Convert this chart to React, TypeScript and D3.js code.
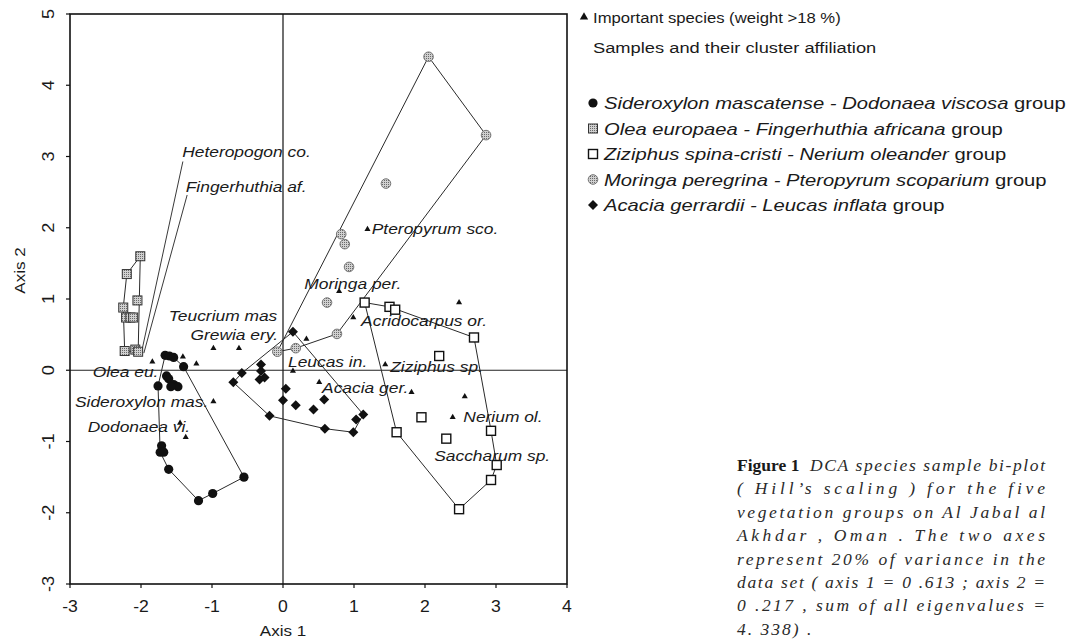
import React from 'react';
import * as d3 from 'd3';

const W = 1084;
const H = 643;

// axis ticks
const X_TICKS = [-3, -2, -1, 0, 1, 2, 3, 4];
const Y_TICKS = [-3, -2, -1, 0, 1, 2, 3, 4, 5];

// samples of each vegetation group, [axis 1, axis 2]
const sideroxylonSamples: [number, number][] = [
  [-1.66, 0.21], [-1.6, 0.2], [-1.54, 0.18], [-1.4, 0.05], [-1.64, -0.08],
  [-1.61, -0.12], [-1.54, -0.2], [-1.48, -0.23], [-1.58, -0.23], [-1.76, -0.22],
  [-1.71, -1.06], [-1.73, -1.15], [-1.68, -1.15], [-1.61, -1.39], [-1.19, -1.83],
  [-0.99, -1.73], [-0.55, -1.5],
];
const oleaSamples: [number, number][] = [
  [-2.01, 1.6], [-2.2, 1.35], [-2.05, 0.98], [-2.25, 0.88], [-2.21, 0.74],
  [-2.15, 0.74], [-2.11, 0.74], [-2.23, 0.27], [-2.08, 0.29], [-2.04, 0.26],
];
const ziziphusSamples: [number, number][] = [
  [1.15, 0.95], [1.5, 0.89], [1.58, 0.85], [2.69, 0.46], [2.2, 0.2],
  [1.95, -0.66], [1.6, -0.87], [2.3, -0.96], [2.93, -0.85], [3.01, -1.33],
  [2.93, -1.54], [2.48, -1.95],
];
const moringaSamples: [number, number][] = [
  [2.05, 4.4], [2.86, 3.3], [1.45, 2.62], [0.82, 1.91], [0.87, 1.77],
  [0.93, 1.45], [0.62, 0.95], [0.76, 0.51], [0.18, 0.31], [-0.08, 0.26],
];
const acaciaSamples: [number, number][] = [
  [0.14, 0.54], [-0.58, -0.04], [-0.7, -0.17], [-0.31, 0.08], [-0.31, -0.01],
  [-0.33, -0.13], [-0.26, -0.1], [0.04, -0.26], [0.0, -0.42], [0.18, -0.49],
  [0.43, -0.55], [0.58, -0.41], [-0.19, -0.64], [0.59, -0.82], [0.99, -0.87],
  [1.03, -0.69], [1.13, -0.62],
];

// important species (weight > 18 %)
const speciesPoints: [number, number][] = [
  [1.19, 1.98], [0.79, 1.11], [2.48, 0.95], [0.99, 0.74], [0.33, 0.44],
  [-0.98, 0.31], [-0.62, 0.31], [0.14, -0.01], [1.44, 0.08], [0.51, -0.17],
  [1.81, -0.31], [2.56, -0.37], [2.39, -0.66], [-1.84, 0.12], [-1.41, 0.19],
  [-1.22, 0.09], [-0.98, -0.44], [-1.37, -0.94], [-1.45, -0.74],
];

// species names, placed at [axis 1, axis 2]
const speciesLabels = [
  { text: 'Heteropogon co.', x: -1.42, y: 3.06, anchor: 'start' },
  { text: 'Fingerhuthia af.', x: -1.37, y: 2.57, anchor: 'start' },
  { text: 'Pteropyrum sco.', x: 1.25, y: 1.98, anchor: 'start' },
  { text: 'Moringa per.', x: 0.3, y: 1.21, anchor: 'start' },
  { text: 'Acridocarpus or.', x: 1.1, y: 0.69, anchor: 'start' },
  { text: 'Teucrium mas', x: -0.08, y: 0.76, anchor: 'end' },
  { text: 'Grewia ery.', x: -0.07, y: 0.5, anchor: 'end' },
  { text: 'Olea eu.', x: -2.68, y: -0.02, anchor: 'start' },
  { text: 'Leucas in.', x: 0.07, y: 0.11, anchor: 'start' },
  { text: 'Ziziphus sp.', x: 1.51, y: 0.04, anchor: 'start' },
  { text: 'Acacia ger.', x: 0.55, y: -0.25, anchor: 'start' },
  { text: 'Sideroxylon mas.', x: -2.93, y: -0.45, anchor: 'start' },
  { text: 'Dodonaea vi.', x: -2.75, y: -0.8, anchor: 'start' },
  { text: 'Nerium ol.', x: 2.54, y: -0.65, anchor: 'start' },
  { text: 'Saccharum sp.', x: 2.13, y: -1.21, anchor: 'start' },
];

// leader lines from the two grass labels to their position
const leaderLines: [number, number][][] = [
  [[-1.41, 2.93], [-2.0, 0.22]],
  [[-1.35, 2.46], [-1.96, 0.24]],
];

const legendGroups = [
  { kind: 'blackCircle', italic: 'Sideroxylon mascatense  - Dodonaea viscosa', rest: ' group' },
  { kind: 'greySquare', italic: 'Olea europaea - Fingerhuthia africana', rest: ' group' },
  { kind: 'openSquare', italic: 'Ziziphus spina-cristi - Nerium oleander', rest: ' group' },
  { kind: 'greyCircle', italic: 'Moringa peregrina - Pteropyrum scoparium', rest: ' group' },
  { kind: 'diamond', italic: 'Acacia gerrardii - Leucas inflata', rest: ' group' },
];

const captionLines = [
  'DCA species sample bi-plot',
  '( Hill\u2019s  scaling )  for  the  five',
  'vegetation  groups  on  Al  Jabal  al',
  'Akhdar ,  Oman .  The  two  axes',
  'represent  20%  of  variance  in  the',
  'data set ( axis 1 = 0 .613 ; axis 2 =',
  '0 .217 , sum of all eigenvalues =',
  '4. 338) .',
];

const SANS = '"Liberation Sans", Arial, Helvetica, sans-serif';
const SERIF = '"Liberation Serif", "Times New Roman", serif';

const xPx = d3.scaleLinear().domain([-3, 4]).range([70, 567]);
const yPx = d3.scaleLinear().domain([-3, 5]).range([584, 14]);

const diamondPath = (r: number) => `M0,${-r}L${r},0L0,${r}L${-r},0Z`;

function Marker({ kind, cx, cy }: { kind: string; cx: number; cy: number }) {
  switch (kind) {
    case 'blackCircle':
      return <circle cx={cx} cy={cy} r={4.6} fill="#111" />;
    case 'greyCircle':
      return <circle cx={cx} cy={cy} r={4.8} fill="url(#dots)" stroke="#777" strokeWidth={1} />;
    case 'greySquare':
      return <rect x={cx - 4.5} y={cy - 4.5} width={9} height={9} fill="url(#dots)" stroke="#333" strokeWidth={1} />;
    case 'openSquare':
      return <rect x={cx - 4.5} y={cy - 4.5} width={9} height={9} fill="#fff" stroke="#111" strokeWidth={1.4} />;
    case 'diamond':
      return <path d={diamondPath(5)} transform={`translate(${cx},${cy})`} fill="#111" />;
    default:
      return null;
  }
}

const groups: { kind: string; pts: [number, number][] }[] = [
  { kind: 'greySquare', pts: oleaSamples },
  { kind: 'blackCircle', pts: sideroxylonSamples },
  { kind: 'diamond', pts: acaciaSamples },
  { kind: 'greyCircle', pts: moringaSamples },
  { kind: 'openSquare', pts: ziziphusSamples },
];

function Label({ x, y, text, anchor, size, sx, italic = true }: any) {
  return (
    <text
      transform={`translate(${x},${y}) scale(${sx},1)`}
      textAnchor={anchor}
      dominantBaseline="central"
      fontFamily={SANS}
      fontStyle={italic ? 'italic' : 'normal'}
      fontSize={size}
      fill="#1a1a1a"
    >
      {text}
    </text>
  );
}

export default function App() {
  const triangle = d3.symbol().type(d3.symbolTriangle).size(16)() as string;
  const legendTriangle = d3.symbol().type(d3.symbolTriangle).size(30)() as string;
  const line = d3.line<[number, number]>().x((d) => xPx(d[0])).y((d) => yPx(d[1]));

  return (
    <svg width={W} height={H} style={{ position: 'absolute', left: 0, top: 0, background: '#fff' }}>
      <defs>
        <pattern id="dots" width={2} height={2} patternUnits="userSpaceOnUse">
          <rect width={2} height={2} fill="#d0d0d0" />
          <rect width={1} height={1} fill="#6a6a6a" />
        </pattern>
      </defs>

      {/* zero lines */}
      <line x1={xPx(0)} x2={xPx(0)} y1={yPx(5)} y2={yPx(-3)} stroke="#111" strokeWidth={1.2} />
      <line x1={xPx(-3)} x2={xPx(4)} y1={yPx(0)} y2={yPx(0)} stroke="#222" strokeWidth={1.1} />

      {/* cluster envelopes */}
      {groups.map((g) => {
        const hull = d3.polygonHull(g.pts) as [number, number][];
        return (
          <path key={g.kind + 'hull'} d={line(hull) + 'Z'} fill="none" stroke="#2a2a2a" strokeWidth={1} />
        );
      })}

      {/* leader lines */}
      {leaderLines.map((l, i) => (
        <path key={'lead' + i} d={line(l) as string} fill="none" stroke="#222" strokeWidth={0.9} />
      ))}

      {/* samples */}
      {groups.map((g) =>
        g.pts.map((p, i) => <Marker key={g.kind + i} kind={g.kind} cx={xPx(p[0])} cy={yPx(p[1])} />)
      )}

      {/* important species */}
      {speciesPoints.map((p, i) => (
        <path key={'sp' + i} d={triangle} transform={`translate(${xPx(p[0])},${yPx(p[1])})`} fill="#111" />
      ))}

      {speciesLabels.map((l) => (
        <Label key={l.text} x={xPx(l.x)} y={yPx(l.y)} text={l.text} anchor={l.anchor} size={14.5} sx={1.2} />
      ))}

      {/* frame */}
      <rect x={xPx(-3)} y={yPx(5)} width={xPx(4) - xPx(-3)} height={yPx(-3) - yPx(5)} fill="none" stroke="#111" strokeWidth={1.6} />

      {/* ticks */}
      {X_TICKS.map((t) => (
        <g key={'xt' + t}>
          <line x1={xPx(t)} x2={xPx(t)} y1={yPx(-3)} y2={yPx(-3) + 4} stroke="#111" strokeWidth={1.2} />
          <Label x={xPx(t)} y={607} text={String(t)} anchor="middle" size={16} sx={1.1} italic={false} />
        </g>
      ))}
      {Y_TICKS.map((t) => (
        <g key={'yt' + t}>
          <line x1={xPx(-3) - 4} x2={xPx(-3)} y1={yPx(t)} y2={yPx(t)} stroke="#111" strokeWidth={1.2} />
          <text
            transform={`translate(48,${yPx(t)}) rotate(-90) scale(1.1,1)`}
            textAnchor="middle"
            dominantBaseline="central"
            fontFamily={SANS}
            fontSize={16.5}
            fill="#1a1a1a"
          >
            {t}
          </text>
        </g>
      ))}
      <Label x={xPx(0)} y={630} text="Axis 1" anchor="middle" size={15.5} sx={1.1} italic={false} />
      <text
        transform={`translate(19,${yPx(1.4)}) rotate(-90) scale(1.1,1)`}
        textAnchor="middle"
        dominantBaseline="central"
        fontFamily={SANS}
        fontSize={15.5}
        fill="#1a1a1a"
      >
        Axis 2
      </text>

      {/* legend */}
      <path d={legendTriangle} transform="translate(584,17)" fill="#111" />
      <Label x={593} y={18} text="Important species (weight >18 %)" anchor="start" size={14.5} sx={1.15} italic={false} />
      <Label x={593} y={48} text="Samples and their cluster affiliation" anchor="start" size={15} sx={1.22} italic={false} />
      {legendGroups.map((g, i) => {
        const ly = 103 + i * 25.5;
        return (
          <g key={g.kind + 'leg'}>
            <Marker kind={g.kind} cx={593} cy={ly} />
            <text
              transform={`translate(604,${ly}) scale(1.24,1)`}
              dominantBaseline="central"
              fontFamily={SANS}
              fontSize={16.3}
              fill="#1a1a1a"
            >
              <tspan fontStyle="italic">{g.italic}</tspan>
              <tspan>{g.rest}</tspan>
            </text>
          </g>
        );
      })}

      {/* caption */}
      <text x={737} y={471} fontFamily={SERIF} fontWeight="bold" fontSize={17.5} fill="#1a1a1a">
        Figure 1
      </text>
      {captionLines.map((c, i) => {
        const first = i === 0;
        const last = i === captionLines.length - 1;
        const x0 = first ? 810 : 737;
        return (
          <text
            key={'cap' + i}
            x={x0}
            y={471 + i * 23.4}
            fontFamily={SERIF}
            fontStyle="italic"
            fontSize={17.5}
            fill="#2a2a2a"
            letterSpacing={last ? 2 : undefined}
            textLength={last ? undefined : 1045 - x0}
            lengthAdjust="spacing"
          >
            {c}
          </text>
        );
      })}
    </svg>
  );
}
